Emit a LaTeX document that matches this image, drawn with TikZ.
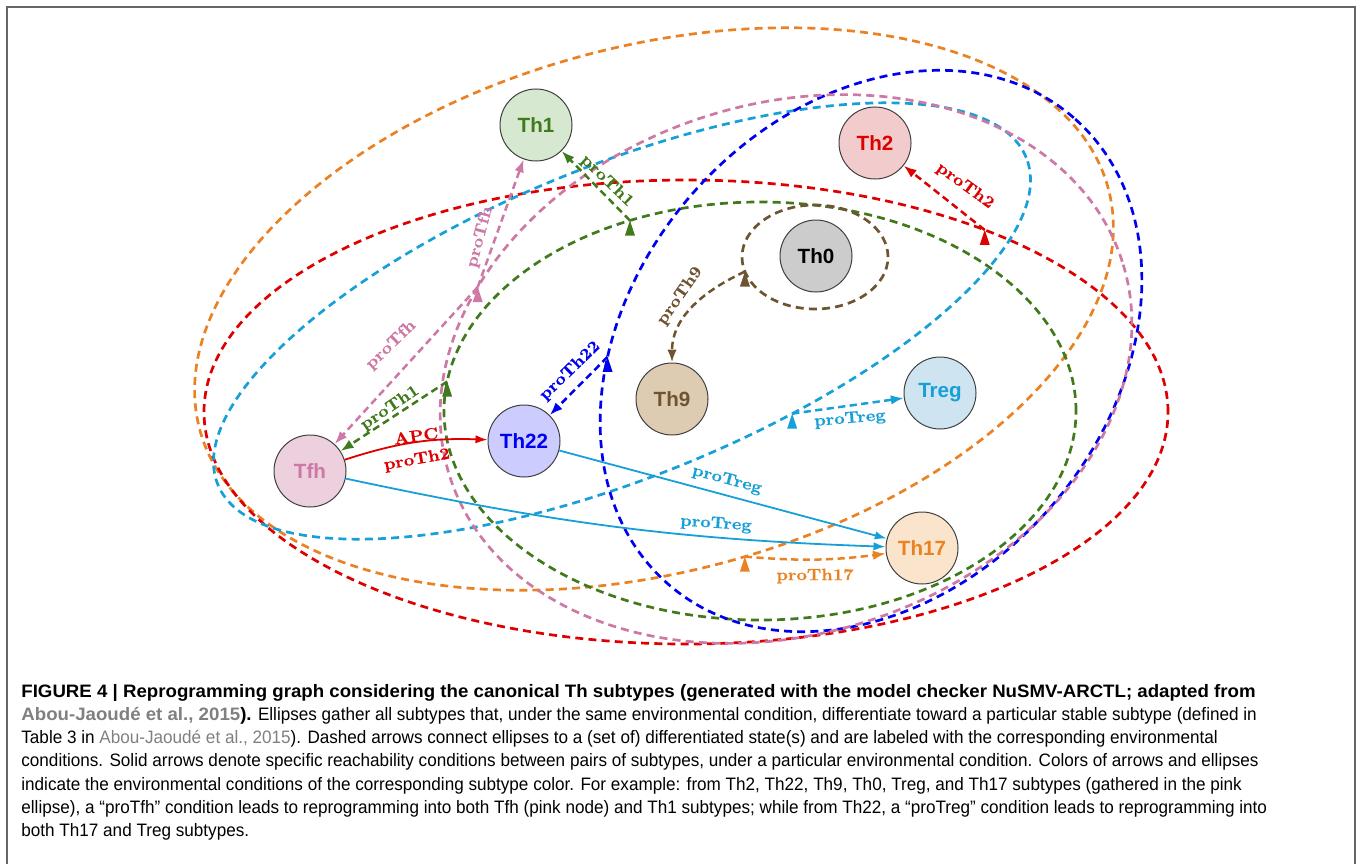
\documentclass[tikz,border=0pt]{standalone}
\usepackage{fontspec}
\usetikzlibrary{arrows.meta,calc}
\newfontfamily\capfont[FakeStretch=0.951,BoldFeatures={FakeStretch=1.037}]{Liberation Sans}
\newfontfamily\nodefont{Liberation Sans}
\newfontfamily\lblfont[FakeStretch=1.1,FakeBold=0.6]{lmroman10-bold.otf}
\definecolor{orgc}{RGB}{234,130,36}
\definecolor{redc}{RGB}{222,0,0}
\definecolor{cyanc}{RGB}{22,160,215}
\definecolor{bluec}{RGB}{0,0,240}
\definecolor{pinkc}{RGB}{205,120,165}
\definecolor{greenc}{RGB}{65,122,28}
\definecolor{brownc}{RGB}{110,85,50}
\definecolor{fThone}{RGB}{214,232,208}
\definecolor{fThtwo}{RGB}{242,204,204}
\definecolor{fThzero}{RGB}{204,204,204}
\definecolor{fThnine}{RGB}{222,204,178}
\definecolor{fTreg}{RGB}{206,228,240}
\definecolor{fTfh}{RGB}{236,208,222}
\definecolor{fThtt}{RGB}{204,204,255}
\definecolor{fThsev}{RGB}{250,228,204}
\definecolor{citegray}{RGB}{128,128,128}
\newcommand\srcmark[2]{\fill[#1] (#2) -- ++(-5,-15) -- ++(10,0) -- cycle;}
\begin{document}
\begin{tikzpicture}[x=0.5pt,y=0.5pt,
  ell/.style={line width=1.35pt, dash pattern=on 4pt off 2.6pt},
  darr/.style={line width=1.25pt, dash pattern=on 3.6pt off 2.2pt, -{Latex[length=6.5pt,width=4.8pt]}},
  sarr/.style={line width=0.9pt, -{Latex[length=6pt,width=4.2pt]}},
  cell/.style={circle, draw=black!75, line width=0.5pt, minimum size=36pt, inner sep=0pt, font=\nodefont\bfseries\fontsize{10.3}{12}\selectfont},
  lbl/.style={font=\lblfont\fontsize{8.2}{9}\selectfont, inner sep=1pt},
  capl/.style={anchor=base west, inner sep=0pt, font=\capfont\fontsize{9}{11}\selectfont}
]
\useasboundingbox (0,0) rectangle (1358,864);
% frame
\draw[black!60, line width=0.8pt] (7,0) -- (7,857) -- (1355,857) -- (1355,0);
% ellipses
\begin{scope}[shift={(654,555)}, rotate=14.8]
  \draw[ell, orgc] (0,0) ellipse [x radius=470, y radius=263];
  \coordinate (O1) at (-87:470 and 263);
\end{scope}
\begin{scope}[shift={(686,452)}]
  \draw[ell, redc] (0,0) ellipse [x radius=482, y radius=232];
  \coordinate (R1) at (51.7:482 and 232);
\end{scope}
\begin{scope}[shift={(622,543)}, rotate=22]
  \draw[ell, cyanc] (0,0) ellipse [x radius=436, y radius=156];
  \coordinate (C1) at (-73.6:436 and 156);
\end{scope}
\begin{scope}[shift={(760,453)}]
  \draw[ell, greenc] (0,0) ellipse [x radius=316, y radius=209];
  \coordinate (G1) at (114.3:316 and 209);
  \coordinate (G2) at (171.9:316 and 209);
\end{scope}
\begin{scope}[shift={(871,513)}, rotate=49]
  \draw[ell, bluec] (0,0) ellipse [x radius=309, y radius=238];
  \coordinate (B1) at (125:309 and 238);
\end{scope}
\begin{scope}[shift={(786,495)}, rotate=17.7]
  \draw[ell, pinkc] (0,0) ellipse [x radius=353, y radius=265];
  \coordinate (P1) at (139.6:353 and 265);
\end{scope}
\begin{scope}[shift={(815,607)}]
  \draw[ell, brownc] (0,0) ellipse [x radius=73, y radius=52];
  \coordinate (Br1) at (196.3:73 and 52);
\end{scope}
% nodes
\node[cell, fill=fThone, text=greenc] (Th1) at (536,739) {Th1};
\node[cell, fill=fThtwo, text=redc] (Th2) at (875,721) {Th2};
\node[cell, fill=fThzero, text=black] (Th0) at (816,608) {Th0};
\node[cell, fill=fThnine, text=brownc] (Th9) at (672,465) {Th9};
\node[cell, fill=fTreg, text=cyanc] (Treg) at (940,471) {Treg};
\node[cell, fill=fTfh, text=pinkc] (Tfh) at (310,393) {Tfh};
\node[cell, fill=fThtt, text=bluec] (Th22) at (524,423) {Th22};
\node[cell, fill=fThsev, text=orgc] (Th17) at (922,316) {Th17};
% dashed arrows from ellipses
\draw[darr, greenc] (G1) -- (Th1);
\draw[darr, pinkc] (P1) -- (Th1);
\draw[darr, pinkc] (P1) -- (Tfh);
\draw[darr, greenc] (G2) -- (Tfh);
\draw[darr, bluec] (B1) -- (Th22);
\draw[darr, redc] (R1) -- (Th2);
\draw[darr, cyanc] (C1) -- (Treg);
\draw[darr, orgc] (O1) to[bend right=6] (Th17);
\draw[darr, brownc] (Br1) to[out=205, in=90] (Th9.north);
\srcmark{greenc}{G1}
\srcmark{greenc}{G2}
\srcmark{pinkc}{P1}
\srcmark{bluec}{B1}
\srcmark{redc}{R1}
\srcmark{cyanc}{C1}
\srcmark{orgc}{O1}
\srcmark{brownc}{Br1}
% solid arrows
\draw[sarr, redc] (Tfh) to[bend left=10] (Th22);
\draw[sarr, cyanc] (Th22) -- (Th17);
\draw[sarr, cyanc] (Tfh) to[out=-12, in=178] (Th17);
% labels
\node[lbl, text=greenc, rotate=-44] (l1) at (607,683) {proTh1};
\node[lbl, text=pinkc, rotate=75] (l2) at (480,627) {proTfh};
\node[lbl, text=pinkc, rotate=44] (l3) at (391,519) {proTfh};
\node[lbl, text=greenc, rotate=34] (l4) at (390,456) {proTh1};
\node[lbl, text=redc, rotate=8] (l5) at (416,428) {APC};
\node[lbl, text=redc, rotate=10] (l6) at (417,404) {proTh2};
\node[lbl, text=bluec, rotate=44] (l7) at (570,493) {proTh22};
\node[lbl, text=brownc, rotate=55] (l8) at (680,568) {proTh9};
\node[lbl, text=redc, rotate=-36] (l9) at (965,678) {proTh2};
\node[lbl, text=cyanc, rotate=5] (l10) at (850,445) {proTreg};
\node[lbl, text=orgc] (l11) at (815,288) {proTh17};
\node[lbl, text=cyanc, rotate=-15] (l12) at (727,384) {proTreg};
\node[lbl, text=cyanc, rotate=-4] (l13) at (716,340) {proTreg};
% caption
\node[capl] (cap1) at (21,167) {\bfseries FIGURE 4 | Reprogramming graph considering the canonical Th subtypes (generated with the model checker NuSMV-ARCTL; adapted from};
\node[capl] (cap2) at (21,143.7) {\textcolor{citegray}{\bfseries Abou-Jaoudé et al., 2015}{\bfseries ).} Ellipses gather all subtypes that, under the same environmental condition, differentiate toward a particular stable subtype (defined in};
\node[capl] (cap3) at (21,120.4) {Table 3 in \textcolor{citegray}{Abou-Jaoudé et al., 2015}). Dashed arrows connect ellipses to a (set of) differentiated state(s) and are labeled with the corresponding environmental};
\node[capl] (cap4) at (21,97.1) {conditions. Solid arrows denote specific reachability conditions between pairs of subtypes, under a particular environmental condition. Colors of arrows and ellipses};
\node[capl] (cap5) at (21,73.8) {indicate the environmental conditions of the corresponding subtype color. For example: from Th2, Th22, Th9, Th0, Treg, and Th17 subtypes (gathered in the pink};
\node[capl] (cap6) at (21,50.5) {ellipse), a “proTfh” condition leads to reprogramming into both Tfh (pink node) and Th1 subtypes; while from Th22, a “proTreg” condition leads to reprogramming into};
\node[capl] (cap7) at (21,27.2) {both Th17 and Treg subtypes.};
\end{tikzpicture}
\end{document}
